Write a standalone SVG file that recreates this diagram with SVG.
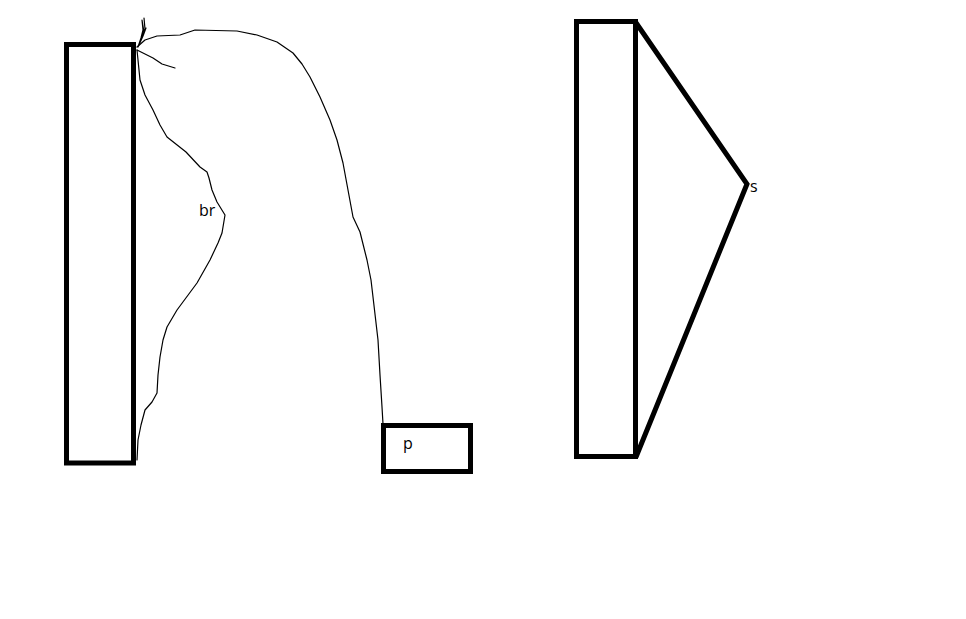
<svg xmlns="http://www.w3.org/2000/svg" width="966" height="619" viewBox="0 0 966 619">
<style>
.box{fill:none;stroke:#000;stroke-width:5}
.thick{fill:none;stroke:#000;stroke-width:5;stroke-linejoin:miter}
.thin{fill:none;stroke:#000;stroke-width:1.2;stroke-linejoin:round;stroke-linecap:round}
.lbl{font-family:"Open Sans","DejaVu Sans",sans-serif;font-size:16px;fill:#000}
</style>
<rect width="966" height="619" fill="#fff"/>
<g id="connectors">
<path class="thin" d="M137,460 L138,440 L141,425 L145,410 L152,402 L157,393 L158,375 L160,357 L163,340 L167,327 L177,310 L197,283 L210,260 L218,243 L222,233 L225,215 L217,202 L212,190 L209,178 L207,172 L200,167 L186,152 L167,137 L160,125 L153,110 L145,95 L140,80 L137,50"/>
<path class="thin" d="M137,47 L145,40 L157,36 L180,35 L195,30 L237,31 L257,35 L277,42 L293,53 L302,64 L310,77 L320,97 L330,120 L337,140 L343,163 L348,190 L353,217 L360,232 L367,260 L371,280 L373,297 L378,340 L380,375 L382,407 L383,424"/>
<path class="thin" d="M137,50 L153,58 L162,64 L175,68"/>
<path class="thin" d="M138,47 L141,38 L143,30 L142,20 L144,32 L141,40 L145,29 L144,18 M139,45 L143,36 L146,28"/>
<path class="thick" d="M635.5,22 L747,184 L636,457"/>
</g>
<g id="node-left">
<rect class="box" x="66.5" y="44.5" width="67" height="418.5"/>
<text class="lbl" x="199" y="216">br</text>
</g>
<g id="node-p">
<rect class="box" x="383.5" y="425.5" width="87" height="46"/>
<text class="lbl" x="403" y="449">p</text>
</g>
<g id="node-right">
<rect class="box" x="576.5" y="21.5" width="59" height="435"/>
<text class="lbl" x="750" y="192">s</text>
</g>
</svg>
